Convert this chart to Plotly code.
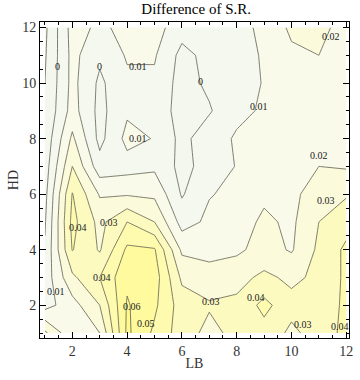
import plotly.graph_objects as go

lb = [1, 2, 3, 4, 5, 6, 7, 8, 9, 10, 11, 12]
hd = [1, 2, 3, 4, 5, 6, 7, 8, 9, 10, 11, 12]

# values per LB column, listed for HD = 1..12
col_lb1 = [0.032, 0.006, 0.004, 0.001, -0.001, -0.003, -0.005, -0.007, -0.009, -0.010, -0.011, -0.012]
col_lb2 = [0.012, 0.016, 0.028, 0.0405, 0.043, 0.0405, 0.030, 0.022, 0.014, 0.013, 0.013, 0.014]
col_lb3 = [0.020, 0.030, 0.040, 0.029, 0.027, 0.019, 0.004, -0.003, -0.003, -0.002, 0.002, 0.008]
col_lb4 = [0.062, 0.061, 0.058, 0.052, 0.040, 0.019, 0.006, 0.013, 0.0085, 0.008, 0.011, 0.013]
col_lb5 = [0.048, 0.052, 0.055, 0.051, 0.030, 0.018, 0.008, 0.0095, 0.006, 0.008, 0.011, 0.014]
col_lb6 = [0.035, 0.035, 0.028, 0.018, 0.006, -0.001, -0.003, -0.003, -0.004, -0.004, -0.003, 0.004]
col_lb7 = [0.027, 0.031, 0.025, 0.016, 0.012, 0.0095, 0.004, 0.006, -0.001, 0.002, 0.003, 0.004]
col_lb8 = [0.033, 0.032, 0.027, 0.018, 0.015, 0.012, 0.0105, 0.011, 0.008, 0.006, 0.006, 0.007]
col_lb9 = [0.036, 0.043, 0.032, 0.024, 0.022, 0.018, 0.014, 0.011, 0.011, 0.0105, 0.011, 0.012]
col_lb10 = [0.028, 0.033, 0.028, 0.019, 0.018, 0.017, 0.015, 0.014, 0.014, 0.015, 0.018, 0.022]
col_lb11 = [0.034, 0.034, 0.032, 0.032, 0.030, 0.026, 0.020, 0.017, 0.015, 0.016, 0.020, 0.023]
col_lb12 = [0.043, 0.042, 0.042, 0.042, 0.036, 0.029, 0.019, 0.019, 0.019, 0.018, 0.017, 0.016]

cols = [col_lb1, col_lb2, col_lb3, col_lb4, col_lb5, col_lb6,
        col_lb7, col_lb8, col_lb9, col_lb10, col_lb11, col_lb12]
z = [[cols[i][j] for i in range(len(lb))] for j in range(len(hd))]

tick_vals = [2, 4, 6, 8, 10, 12]

# contour label texts (level values) as printed on the chart
label_texts = ["0", "0", "0.01", "0", "0.02", "0.01", "0.01", "0.02", "0.03",
               "0.04", "0.03", "0.04", "0.01", "0.06", "0.05", "0.03", "0.04",
               "0.03", "0.04"]
# where each label sits (layout positions, LB/HD axis units)
label_pos = [(1.45, 10.6), (2.99, 10.6), (4.38, 10.6), (6.67, 10.06), (11.43, 11.69),
             (8.83, 9.15), (4.4, 8.0), (11.0, 7.38), (11.25, 5.78),
             (2.19, 4.8), (3.35, 4.99), (3.09, 2.99), (1.4, 2.49), (4.18, 1.94),
             (4.68, 1.33), (7.06, 2.12), (8.69, 2.27), (10.42, 1.29), (11.76, 1.22)]

serif = "Liberation Serif, Times New Roman, serif"

zmin, zmax = -0.02, 0.07
band_colors = ["#f3f7ee", "#f4f8ee", "#f9faea", "#fbfadb", "#fcfacd",
               "#fdfabf", "#fefaae", "#fefa9d", "#fffa8e"]
n = len(band_colors)
colorscale = []
for i, c in enumerate(band_colors):
    colorscale.append([i / n, c])
    colorscale.append([(i + 1) / n, c])

fig = go.Figure(go.Contour(
    x=lb, y=hd, z=z,
    zmin=zmin, zmax=zmax,
    contours=dict(start=-0.01, end=0.07, size=0.01, coloring="fill", showlabels=False),
    colorscale=colorscale,
    line=dict(color="rgba(95,95,80,0.8)", width=1, smoothing=0),
    showscale=False,
    hoverinfo="skip",
))

for t, (lx, ly) in zip(label_texts, label_pos):
    fig.add_annotation(x=lx, y=ly, text=t, showarrow=False,
                       font=dict(family=serif, size=10, color="#222222"))

axis_common = dict(
    showline=True, linecolor="black", linewidth=1, mirror="allticks",
    ticks="inside", ticklen=6, tickcolor="black", tickwidth=1,
    tickvals=tick_vals, showgrid=False, zeroline=False,
    tickfont=dict(family=serif, size=14, color="#333333"),
    title_font=dict(family=serif, size=14, color="#333333"),
    minor=dict(tick0=0, dtick=0.5, ticklen=3, ticks="inside", tickcolor="black", showgrid=False),
)

fig.update_layout(
    width=360, height=380,
    margin=dict(l=40, r=7, t=22, b=42),
    paper_bgcolor="white", plot_bgcolor="white",
    title=dict(text="Difference of S.R.", x=0.545, xanchor="center", y=0.976, yanchor="middle",
               font=dict(family=serif, size=15, color="black")),
    xaxis=dict(range=[0.82, 12.1], title=dict(text="LB", standoff=0), **axis_common),
    yaxis=dict(range=[0.82, 12.2], title=dict(text="HD", standoff=0), **axis_common),
)

fig.write_html("out.html", config={"displayModeBar": False},
               post_script="document.body.style.margin='0px';")
